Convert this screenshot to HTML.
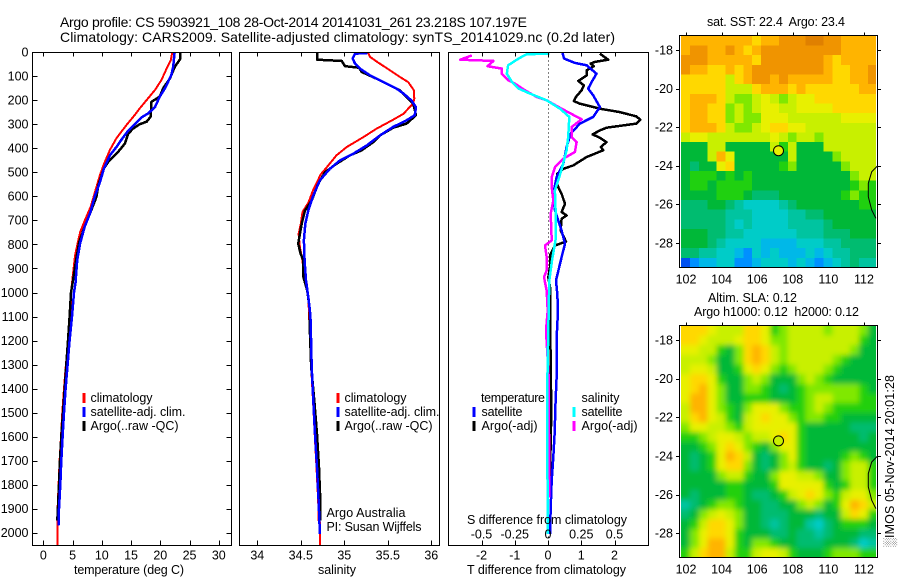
<!DOCTYPE html>
<html lang="en">
<head>
<meta charset="utf-8">
<title>Argo profile 5903921_108</title>
<style>
html,body{margin:0;padding:0;background:#fff;}
svg{display:block;font-family:"Liberation Sans",sans-serif;font-size:12.5px;fill:#000;}
.frame{fill:none;stroke:#000;stroke-width:1;shape-rendering:crispEdges;}
.tick{stroke:#000;stroke-width:1;shape-rendering:crispEdges;}
.curve{fill:none;stroke-linejoin:round;shape-rendering:crispEdges;}
.key{stroke-width:3;shape-rendering:crispEdges;}
</style>
</head>
<body>
<svg id="chart" width="900" height="580" viewBox="0 0 900 580" xmlns="http://www.w3.org/2000/svg">
  <rect x="0" y="0" width="900" height="580" fill="#fff"/>
  <text x="60" y="27" font-size="14" textLength="467">Argo profile: CS 5903921_108 28-Oct-2014 20141031_261 23.218S 107.197E</text>
  <text x="60" y="42" font-size="14" textLength="555">Climatology: CARS2009. Satellite-adjusted climatology: synTS_20141029.nc (0.2d later)</text>

  <defs>
    <clipPath id="clip-sst"><rect x="681" y="36" width="195" height="231"/></clipPath>
    <clipPath id="clip-sla"><rect x="681" y="326" width="195" height="231"/></clipPath>
    <filter id="soften" filterUnits="userSpaceOnUse" x="640" y="290" width="260" height="290"><feGaussianBlur stdDeviation="2.6"/></filter>
  </defs>
  <g id="sst-map" clip-path="url(#clip-sst)"></g>
  <g clip-path="url(#clip-sla)"><g id="sla-map" filter="url(#soften)"></g></g>
  <g id="layer"></g>

  <text x="74" y="574" textLength="110">temperature (deg C)</text>
  <text x="318" y="574" textLength="38">salinity</text>
  <text x="467" y="574" textLength="159">T difference from climatology</text>
  <text x="467" y="524" textLength="160">S difference from climatology</text>

  <g>
    <line class="key" x1="84" x2="84" y1="393" y2="403" stroke="#f00"/>
    <line class="key" x1="84" x2="84" y1="407" y2="417" stroke="#00f"/>
    <line class="key" x1="84" x2="84" y1="421" y2="431" stroke="#000"/>
    <text x="90.5" y="402" textLength="62">climatology</text>
    <text x="90.5" y="416" textLength="95">satellite-adj. clim.</text>
    <text x="90.5" y="430" textLength="88">Argo(..raw -QC)</text>
  </g>
  <g>
    <line class="key" x1="338" x2="338" y1="393" y2="403" stroke="#f00"/>
    <line class="key" x1="338" x2="338" y1="407" y2="417" stroke="#00f"/>
    <line class="key" x1="338" x2="338" y1="421" y2="431" stroke="#000"/>
    <text x="344.5" y="402" textLength="62">climatology</text>
    <text x="344.5" y="416" textLength="95">satellite-adj. clim.</text>
    <text x="344.5" y="430" textLength="88">Argo(..raw -QC)</text>
    <text x="326.5" y="517" textLength="79">Argo Australia</text>
    <text x="326.5" y="531" textLength="95">PI: Susan Wijffels</text>
  </g>
  <g>
    <text x="481" y="402" textLength="64">temperature</text>
    <line class="key" x1="474" x2="474" y1="407" y2="417" stroke="#00f"/>
    <line class="key" x1="474" x2="474" y1="421" y2="431" stroke="#000"/>
    <text x="481.5" y="416" textLength="41">satellite</text>
    <text x="481.5" y="430" textLength="56">Argo(-adj)</text>
    <text x="581.5" y="402" textLength="38">salinity</text>
    <line class="key" x1="574" x2="574" y1="407" y2="417" stroke="#0ff"/>
    <line class="key" x1="574" x2="574" y1="421" y2="431" stroke="#f0f"/>
    <text x="581.5" y="416" textLength="41">satellite</text>
    <text x="581.5" y="430" textLength="56">Argo(-adj)</text>
  </g>

  <text x="707" y="26" textLength="138" xml:space="preserve">sat. SST: 22.4  Argo: 23.4</text>
  <text x="708" y="302" textLength="89">Altim. SLA: 0.12</text>
  <text x="694" y="316" textLength="165" xml:space="preserve">Argo h1000: 0.12  h2000: 0.12</text>
  <text transform="translate(894 547) rotate(-90)" textLength="172">░IMOS 05-Nov-2014 20:01:28</text>
</svg>

<script>
// ---- axis tick values ----
const depthTicks = [0,100,200,300,400,500,600,700,800,900,1000,1100,1200,1300,1400,1500,1600,1700,1800,1900,2000];
const tempTicks = [0,5,10,15,20,25,30];
const salTicks = [34,34.5,35,35.5,36];
const salTickLabels = ["34","34.5","35","35.5","36"];
const tdiffTicks = [-2,-1,0,1,2];
const sdiffTicks = [-0.5,-0.25,0,0.25,0.5];
const sdiffTickLabels = ["-0.5","-0.25","0","0.25","0.5"];
const lonTicks = [102,104,106,108,110,112];
const latTicks = [-18,-20,-22,-24,-26,-28];

// ---- temperature panel ----
const tempClimDepth = [0,32,67,115,157,192,233,268,303,358,406,463,511,560,643,700,748,803,850,1000,1100,1200,1300,1400,1500,1600,1700,1800,1900,1960,2000,2053];
const tempClimValue = [22.05,21.8,21.1,20.2,19.1,17.9,16.5,15.4,14.2,12.5,11.4,10.4,9.7,9.1,8.1,7.1,6.3,5.8,5.4,4.73,4.67,4.27,3.87,3.53,3.25,3.02,2.79,2.62,2.45,2.4,2.45,2.45];
const tempSatDepth = [0,60,94,150,185,228,254,271,299,326,363,393,428,483,540,600,670,725,794,865,960,1000,1100,1200,1300,1400,1500,1600,1700,1800,1900,1970];
const tempSatValue = [22.45,22.2,21.9,20.8,19.9,19.1,17.95,16.8,15.67,14.53,13.39,12.54,11.4,10.37,9.7,8.8,8,7.1,6.3,5.8,5.5,5.24,4.9,4.5,4.16,3.82,3.53,3.3,3.08,2.91,2.68,2.6];
const tempArgoDepth = [0,29,60,108,150,185,206,268,289,299,317,338,358,379,406,428,456,483,553,601,670,725,788,865,948,1000,1100,1200,1300,1400,1500,1600,1700,1800,1900,1950];
const tempArgoValue = [23.36,23.36,22.5,21.65,20.5,19.9,18.5,18.35,17.67,16.53,15.39,14.53,14.25,13.96,13.1,12.25,11.11,10.37,9.4,9.1,8,7.1,6.15,5.6,5.1,4.73,4.5,4.22,3.93,3.65,3.36,3.08,2.85,2.68,2.5,2.4];

// ---- salinity panel ----
const salClimDepth = [3,19,43,75,103,124,158,193,214,235,256,281,318,353,394,429,478,508,575,624,665,714,756,811,867,922,964,1047,1311,1450,1589,1728,1867,1950,1955,2053];
const salClimValue = [35.276,35.295,35.39,35.525,35.64,35.735,35.8,35.805,35.79,35.735,35.68,35.56,35.37,35.22,35.03,34.91,34.8,34.73,34.64,34.59,34.52,34.5,34.475,34.49,34.52,34.535,34.57,34.59,34.62,34.64,34.66,34.68,34.7,34.705,34.72,34.72];
const salSatDepth = [3,6,26,47,68,96,124,151,172,200,228,262,283,311,346,388,422,450,485,533,596,658,714,783,867,950,1019,1075,1117,1311,1450,1589,1728,1867,2006];
const salSatValue = [35.264,35.123,35.096,35.123,35.18,35.295,35.45,35.6,35.68,35.77,35.824,35.81,35.716,35.56,35.41,35.257,35.103,34.95,34.835,34.72,34.644,34.586,34.552,34.536,34.544,34.56,34.586,34.605,34.613,34.625,34.644,34.663,34.686,34.705,34.72];
const salArgoDepth = [3,31,33,36,58,64,82,110,138,158,186,214,262,297,314,346,374,408,429,464,499,547,617,658,714,797,839,867,936,992,1061,1117,1311,1450,1589,1728,1867,1950];
const salArgoValue = [34.69,34.69,34.797,34.97,35.008,35.17,35.2,35.37,35.525,35.64,35.716,35.793,35.824,35.716,35.563,35.41,35.333,35.2,35.065,34.91,34.778,34.7,34.625,34.548,34.51,34.47,34.498,34.53,34.53,34.575,34.6,34.6,34.62,34.655,34.686,34.709,34.724,34.724];

// ---- difference panel ----
const dtSatDepth = [3,26,44,54,89,124,151,179,228,269,297,339,394,464,519,575,658,742,797,853,950,1006,1075,1158,1353,1450,1589,1686,1783,1894,2006];
const dtSatValue = [0.44,0.48,0.81,1.16,1.46,1.31,1.21,1.36,1.56,1.36,0.96,0.68,0.56,0.46,0.26,0.18,0.21,0.41,0.51,0.41,0.24,0.28,0.3,0.27,0.26,0.23,0.2,0.16,0.11,0.08,0.06];
const dtArgoDepth = [6,31,40,47,58,75,96,119,138,158,186,203,214,235,249,267,281,297,314,325,342,356,374,394,408,436,471,485,506,547,589,631,665,679,693,742,788,804,846,894,936,978,1068,1300,1500,1700,1853];
const dtArgoValue = [1.56,1.81,1.41,1.28,1.38,1.16,1.16,0.91,1.08,1.01,0.84,0.78,0.96,1.56,2.16,2.66,2.78,2.66,1.76,1.56,1.34,1.56,1.76,1.59,1.66,1.16,0.76,0.46,0.28,0.26,0.41,0.51,0.41,0.56,0.41,0.38,0.54,0.21,0.06,0.06,0.01,0.06,0.06,0.08,0.1,0.07,0.05];
const dsSatDepth = [6,8,26,54,89,124,151,172,200,235,269,353,408,492,575,672,769,867,950,1075,1158,1380,1650,1900,2006];
const dsSatValue = [0.01,-0.16,-0.22,-0.3,-0.31,-0.27,-0.22,-0.135,-0.01,0.09,0.16,0.152,0.14,0.1,0.052,0.058,0.06,0.03,0.01,0.005,0.0025,-0.005,-0.005,-0.0025,-0.0025];
const dsArgoDepth = [13,31,36,58,68,89,117,131,158,186,200,235,279,311,353,374,415,443,478,519,561,617,672,783,804,853,908,936,992,1075,1158,1353,1589,1853];
const dsArgoValue = [-0.5725,-0.66,-0.41,-0.455,-0.3475,-0.3475,-0.2975,-0.2475,-0.1725,-0.085,-0.01,0.1025,0.2525,0.1775,0.1775,0.215,0.2025,0.115,0.0525,0.0275,0.0275,0.04,0.02,0.0275,-0.0225,-0.01,-0.01,-0.03,-0.01,-0.0025,-0.015,0.005,0.0075,0.0075];

// ---- map data: colour-level per 0.5 degree cell, north to south ----
const sstLevels = [
[12,12,12,12,12,12,12,12,11,12,12,13,13,13,14,14,13,13,12,12,12,12],
[12,13,13,12,12,13,12,11,12,13,13,13,13,13,13,13,13,13,12,12,12,12],
[13,13,13,12,12,12,12,12,11,13,13,13,13,13,13,13,12,11,12,12,12,12],
[13,12,12,11,11,12,11,12,13,13,13,13,13,13,13,13,12,11,11,12,12,13],
[11,11,11,11,11,9,11,12,13,13,12,13,12,12,12,12,12,11,11,12,12,13],
[11,11,11,11,11,9,9,9,11,12,12,12,11,12,11,11,11,11,11,11,12,12],
[11,12,12,12,11,9,8,8,9,10,9,8,9,10,10,11,11,11,11,11,11,11],
[11,12,12,11,11,8,9,8,9,10,10,9,9,10,10,10,10,11,11,11,11,11],
[11,12,12,11,11,8,9,8,8,10,10,10,9,9,9,9,9,9,10,10,10,10],
[11,12,12,12,11,9,8,8,9,10,11,11,10,10,9,9,9,9,9,9,9,9],
[9,10,10,9,9,9,9,9,9,9,10,9,8,9,9,8,9,9,9,9,9,9],
[6,6,6,9,9,6,6,6,6,6,9,7,9,6,6,6,9,9,9,9,9,9],
[6,6,6,9,12,10,6,6,6,6,6,6,9,6,6,6,6,8,9,9,9,9],
[6,5,6,6,10,11,6,6,6,6,6,7,8,6,6,6,6,6,8,9,9,9],
[6,7,7,7,6,7,6,7,6,6,6,6,6,6,6,6,6,6,6,8,9,9],
[6,7,7,6,7,7,7,7,6,6,6,6,6,6,6,6,6,6,6,7,8,7],
[6,6,6,6,7,7,7,6,5,5,5,6,6,6,6,6,6,6,7,8,7,7],
[5,5,5,6,6,5,4,3,3,3,3,4,5,6,6,6,6,6,6,6,7,7],
[5,5,5,5,5,4,4,4,3,3,3,3,4,4,5,5,6,6,6,6,6,6],
[5,5,5,5,5,4,3,4,3,3,3,3,4,4,4,4,5,6,6,6,6,6],
[6,6,6,5,5,4,4,3,3,3,3,3,3,4,4,4,5,5,5,6,6,6],
[6,6,6,5,4,3,3,3,3,2,2,2,2,3,3,3,4,4,5,5,5,5],
[5,5,4,4,3,3,2,1,3,2,3,2,2,2,3,2,3,4,4,5,5,5],
[0,1,2,2,3,3,1,1,2,3,3,3,2,3,2,1,2,3,4,5,4,4]
];
const slaLevels = [
[11,11,11,10,9,9,9,11,11,10,7,8,9,9,9,9,8,9,9,9,8,6],
[11,11,10,9,9,9,10,11,11,10,8,8,9,9,9,9,9,9,9,9,7,6],
[10,10,9,9,7,6,8,11,12,11,9,8,9,9,9,9,9,9,9,8,6,6],
[9,9,9,8,6,6,8,11,12,11,9,8,9,9,9,9,9,8,7,6,6,6],
[9,10,10,9,6,6,7,10,11,10,8,7,8,9,9,9,8,7,6,6,6,6],
[10,11,11,10,7,6,6,8,9,8,6,6,6,8,9,8,7,6,6,6,6,6],
[10,11,12,10,8,6,6,8,8,7,6,5,6,7,8,8,8,8,8,8,7,6],
[10,12,12,10,8,6,6,7,7,7,6,6,6,7,8,9,9,8,8,8,7,7],
[9,12,12,10,8,7,6,8,10,10,10,8,7,7,8,9,8,7,7,7,7,7],
[9,11,12,10,9,7,6,9,10,11,10,10,8,7,8,8,7,7,6,6,6,6],
[8,10,10,9,9,8,7,9,10,10,10,10,10,7,6,6,6,6,6,5,5,5],
[7,7,8,9,10,10,9,8,9,9,10,11,10,7,6,6,6,6,6,6,5,6],
[6,6,7,8,10,11,10,8,7,6,8,10,10,7,6,6,6,6,6,6,6,6],
[6,5,6,7,10,12,11,9,6,5,6,8,10,7,6,6,6,6,7,8,7,6],
[6,5,6,7,10,11,11,8,6,5,6,8,9,7,6,6,5,6,8,9,9,7],
[6,6,6,6,8,9,9,7,6,6,8,10,10,9,9,8,6,6,8,9,9,7],
[6,6,6,6,6,7,7,6,6,6,7,10,10,10,10,10,7,6,7,9,9,7],
[6,5,6,6,6,7,7,6,5,5,6,7,9,10,11,10,8,7,9,10,10,8],
[4,5,6,7,8,8,7,6,6,5,5,6,6,8,9,8,6,7,10,12,11,9],
[5,6,8,9,10,9,8,6,6,5,5,5,6,6,6,5,6,6,9,11,10,7],
[6,7,9,11,11,10,8,6,6,5,4,5,6,6,4,3,5,6,7,7,7,6],
[6,8,10,11,11,10,7,6,6,6,5,5,6,5,5,4,5,6,6,6,5,5],
[6,8,10,12,12,10,7,6,8,8,7,6,6,5,5,5,6,6,6,5,3,4],
[7,9,11,12,12,9,7,7,9,10,10,9,7,6,6,6,7,8,8,8,7,7]
];
const coastLon = [112.75,112.43,112.24,112.24,112.43,112.67];
const coastLat = [-24.01,-24.31,-24.91,-25.6,-26.29,-26.72];
const floatLon = 107.197;
const floatLat = -23.218;

// ---- helpers ----
const NS = 'http://www.w3.org/2000/svg';
const layer = document.getElementById('layer');
function make(tag, attrs, parent) {
  const el = document.createElementNS(NS, tag);
  for (const k in attrs) el.setAttribute(k, attrs[k]);
  (parent || layer).appendChild(el);
  return el;
}
function levelColor(v) {
  const stops = ['#0050f0','#0090ff','#00b8e8','#00ccc8','#00c4a0','#00bc70','#00b838','#20d010','#80e800','#c8f000','#e8f000','#ffd800','#ffb400','#f09400','#e08000'];
  return stops[Math.max(0, Math.min(stops.length - 1, Math.round(v)))];
}

// ---- scales ----
const yDepth = d => 52.3 + 0.2402 * d;
const xTemp = t => 43.3 + 5.85 * t;
const xSal = s => 344.3 + 87 * (s - 35);
const xDT = t => 548 + 33.25 * t;
const xDS = s => 548 + 133 * s;
const lonX = lon => 686 + 17.8 * (lon - 102);
const sstY = lat => 50 + 19.3 * (-18 - lat);
const slaY = lat => 340 + 19.33 * (-18 - lat);

// ---- profile panels ----
function drawCurve(depths, values, xf, color, width, name) {
  const pts = depths.map((d, i) => xf(values[i]).toFixed(1) + ',' + yDepth(d).toFixed(1)).join(' ');
  const el = make('polyline', {class: 'curve', points: pts, stroke: color, 'stroke-width': width});
  
  
}
const L1 = 32.5, R1 = 231.5, L2 = 239.5, R2 = 439.5, L3 = 448.5, R3 = 648.5, T0 = 52.5, B0 = 545.5;

function drawXTicks(ticks, labels, xf, left, right, panel) {
  ticks.forEach((t, i) => {
    const x = Math.round(xf(t)) + 0.5;
    const top = make('line', {class: 'tick', x1: x, x2: x, y1: T0, y2: T0 + 4});
    
    
    const bot = make('line', {class: 'tick', x1: x, x2: x, y1: B0 - 5, y2: B0});
    
    
    const lab = make('text', {x: xf(t), y: 559.5, 'text-anchor': 'middle'});
    lab.textContent = labels[i];
    
    
  });
}

// temperature
drawCurve(tempClimDepth, tempClimValue, xTemp, '#f00', 2, 'temperature-climatology-line');
drawCurve(tempArgoDepth, tempArgoValue, xTemp, '#000', 2.5, 'temperature-argo-line');
drawCurve(tempSatDepth, tempSatValue, xTemp, '#00f', 2.5, 'temperature-satellite-line');
drawXTicks(tempTicks, tempTicks.map(String), xTemp, L1, R1, 'temperature-axis');
depthTicks.forEach(d => {
  const y = Math.round(yDepth(d)) + 0.5;
  const a = make('line', {class: 'tick', x1: L1, x2: L1 + 5, y1: y, y2: y});
  
  
  const b = make('line', {class: 'tick', x1: R1 - 5, x2: R1, y1: y, y2: y});
  
  
  const lab = make('text', {x: 28.5, y: yDepth(d) + 4.3, 'text-anchor': 'end'});
  lab.textContent = String(d);
  
  
});

// salinity
drawCurve(salClimDepth, salClimValue, xSal, '#f00', 2, 'salinity-climatology-line');
drawCurve(salArgoDepth, salArgoValue, xSal, '#000', 2.5, 'salinity-argo-line');
drawCurve(salSatDepth, salSatValue, xSal, '#00f', 2.5, 'salinity-satellite-line');
drawXTicks(salTicks, salTickLabels, xSal, L2, R2, 'salinity-axis');

// differences
const zero = make('line', {x1: Math.round(xDT(0)) + 0.5, x2: Math.round(xDT(0)) + 0.5, y1: T0, y2: B0, stroke: '#000', 'stroke-width': 1, 'stroke-dasharray': '1 3', 'shape-rendering': 'crispEdges'});


drawCurve(dtArgoDepth, dtArgoValue, xDT, '#000', 2.5, 'temperature-difference-argo-line');
drawCurve(dtSatDepth, dtSatValue, xDT, '#00f', 2.5, 'temperature-difference-satellite-line');
drawCurve(dsArgoDepth, dsArgoValue, xDS, '#f0f', 2.5, 'salinity-difference-argo-line');
drawCurve(dsSatDepth, dsSatValue, xDS, '#0ff', 2.5, 'salinity-difference-satellite-line');
drawXTicks(tdiffTicks, tdiffTicks.map(String), xDT, L3, R3, 't-difference-axis');
sdiffTicks.forEach((s, i) => {
  const lab = make('text', {x: xDS(s), y: 538.5, 'text-anchor': 'middle'});
  lab.textContent = sdiffTickLabels[i];
  
  
});

// panel frames
[[L1, R1, 'temperature-panel-frame'], [L2, R2, 'salinity-panel-frame'], [L3, R3, 'difference-panel-frame']].forEach(p => {
  const fr = make('rect', {class: 'frame', x: p[0], y: T0, width: p[1] - p[0], height: B0 - T0});
  
  
});

// ---- maps ----
function drawMap(groupId, levels, yf, extend, prefix) {
  const g = document.getElementById(groupId);
  const lon0 = 101.72, lat0 = -17.27, step = 0.5;
  levels.forEach((row, r) => {
    row.forEach((v, c) => {
      let x0 = lonX(lon0 + c * step), x1 = lonX(lon0 + (c + 1) * step);
      let y0 = yf(lat0 - r * step), y1 = yf(lat0 - (r + 1) * step);
      if (extend) {
        if (c === 0) x0 -= 12;
        if (c === row.length - 1) x1 += 12;
        if (r === 0) y0 -= 12;
        if (r === levels.length - 1) y1 += 12;
      }
      const cell = make('rect', {x: x0.toFixed(2), y: y0.toFixed(2), width: (x1 - x0 + 0.4).toFixed(2), height: (y1 - y0 + 0.4).toFixed(2), fill: levelColor(v), 'shape-rendering': 'crispEdges'}, g);
      
      
    });
  });
}
drawMap('sst-map', sstLevels, sstY, false, 'sst');
drawMap('sla-map', slaLevels, slaY, true, 'sla');

function drawMapFurniture(yf, top, bottom, fill, prefix) {
  const pts = coastLon.map((lon, i) => lonX(lon).toFixed(1) + ',' + yf(coastLat[i]).toFixed(1)).join(' ');
  const coast = make('polyline', {points: pts, fill: 'none', stroke: '#000', 'stroke-width': 1});
  
  
  const marker = make('circle', {cx: lonX(floatLon), cy: yf(floatLat), r: 5, fill: fill, stroke: '#000', 'stroke-width': 1});
  
  
  const fr = make('rect', {class: 'frame', x: 679.5, y: top, width: 198, height: bottom - top});
  
  
  lonTicks.forEach(lon => {
    const x = Math.round(lonX(lon)) + 0.5;
    const t = make('line', {class: 'tick', x1: x, x2: x, y1: top - 3, y2: top});
    
    
    const lab = make('text', {x: lonX(lon), y: bottom + 16, 'text-anchor': 'middle'});
    lab.textContent = String(lon);
    
    
  });
  latTicks.forEach(lat => {
    const y = Math.round(yf(lat)) + 0.5;
    const a = make('line', {class: 'tick', x1: 676, x2: 679.5, y1: y, y2: y});
    
    
    const b = make('line', {class: 'tick', x1: 877.5, x2: 881, y1: y, y2: y});
    
    
    const lab = make('text', {x: 673, y: yf(lat) + 4.3, 'text-anchor': 'end'});
    lab.textContent = String(lat);
    
    
  });
}
drawMapFurniture(sstY, 35.5, 267.5, '#e8f000', 'sst');
drawMapFurniture(slaY, 325.5, 557.5, '#c8f000', 'sla');
</script>
</body>
</html>
